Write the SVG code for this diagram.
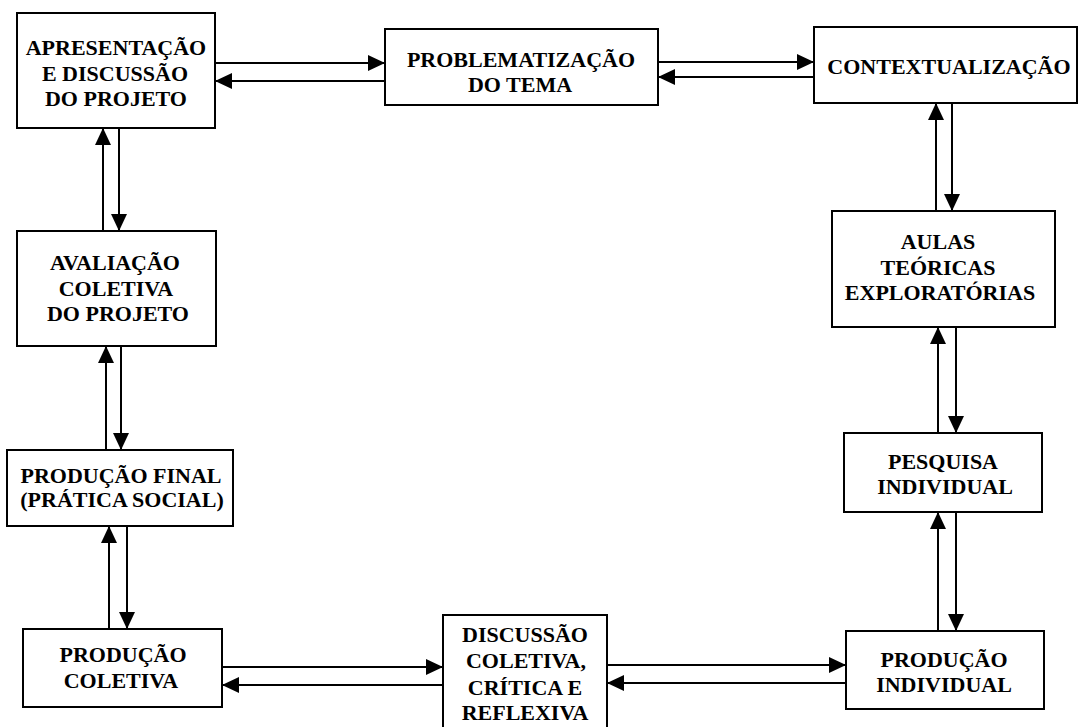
<svg xmlns="http://www.w3.org/2000/svg" width="1079" height="727" viewBox="0 0 1079 727">
<style>
.box{fill:#fff;stroke:#000;stroke-width:2}
.t{font-family:"Liberation Serif","Times New Roman",serif;font-weight:bold;font-size:22px;text-anchor:middle;fill:#000}
.c{stroke:#000;stroke-width:2;fill:none;marker-end:url(#ah)}
</style>
<defs>
<marker id="ah" markerUnits="userSpaceOnUse" markerWidth="17" markerHeight="16" refX="17" refY="8" orient="auto" viewBox="0 0 17 16">
<path d="M0,0 L17,8 L0,16 z" fill="#000"/>
</marker>
</defs>
<rect width="1079" height="727" fill="#fff"/>
<g id="connectors">
<line class="c" x1="215" y1="63" x2="385" y2="63"/>
<line class="c" x1="385" y1="81" x2="215" y2="81"/>
<line class="c" x1="658" y1="62" x2="814" y2="62"/>
<line class="c" x1="814" y1="77" x2="658" y2="77"/>
<line class="c" x1="936" y1="211" x2="936" y2="103"/>
<line class="c" x1="952" y1="103" x2="952" y2="211"/>
<line class="c" x1="938" y1="433" x2="938" y2="327"/>
<line class="c" x1="956" y1="327" x2="956" y2="433"/>
<line class="c" x1="938" y1="631" x2="938" y2="512"/>
<line class="c" x1="956" y1="512" x2="956" y2="631"/>
<line class="c" x1="607" y1="665" x2="846" y2="665"/>
<line class="c" x1="846" y1="683" x2="607" y2="683"/>
<line class="c" x1="222" y1="667" x2="443" y2="667"/>
<line class="c" x1="443" y1="685" x2="222" y2="685"/>
<line class="c" x1="109" y1="629" x2="109" y2="526"/>
<line class="c" x1="127" y1="526" x2="127" y2="629"/>
<line class="c" x1="106" y1="450" x2="106" y2="346"/>
<line class="c" x1="121" y1="346" x2="121" y2="450"/>
<line class="c" x1="103" y1="231" x2="103" y2="128"/>
<line class="c" x1="119" y1="128" x2="119" y2="231"/>
</g>
<g id="apresentacao">
<rect class="box" x="17" y="13" width="198" height="115"/>
<text class="t" x="116" y="55">APRESENTAÇÃO</text>
<text class="t" x="115" y="81">E DISCUSSÃO</text>
<text class="t" x="116" y="106">DO PROJETO</text>
</g>
<g id="problematizacao">
<rect class="box" x="385" y="29" width="273" height="76"/>
<text class="t" x="521" y="67">PROBLEMATIZAÇÃO</text>
<text class="t" x="520" y="92">DO TEMA</text>
</g>
<g id="contextualizacao">
<rect class="box" x="814" y="27" width="263" height="76"/>
<text class="t" x="949" y="74">CONTEXTUALIZAÇÃO</text>
</g>
<g id="aulas">
<rect class="box" x="832" y="211" width="223" height="116"/>
<text class="t" x="938" y="249">AULAS</text>
<text class="t" x="938" y="275">TEÓRICAS</text>
<text class="t" x="940" y="300">EXPLORATÓRIAS</text>
</g>
<g id="pesquisa">
<rect class="box" x="844" y="433" width="198" height="79"/>
<text class="t" x="943" y="469">PESQUISA</text>
<text class="t" x="945" y="494">INDIVIDUAL</text>
</g>
<g id="producao-individual">
<rect class="box" x="846" y="631" width="198" height="78"/>
<text class="t" x="944" y="667">PRODUÇÃO</text>
<text class="t" x="944" y="692">INDIVIDUAL</text>
</g>
<g id="discussao">
<rect class="box" x="443" y="615" width="164" height="120"/>
<text class="t" x="525" y="642">DISCUSSÃO</text>
<text class="t" x="526" y="668">COLETIVA,</text>
<text class="t" x="525" y="695">CRÍTICA E</text>
<text class="t" x="525" y="720">REFLEXIVA</text>
</g>
<g id="producao-coletiva">
<rect class="box" x="23" y="629" width="199" height="78"/>
<text class="t" x="123" y="662">PRODUÇÃO</text>
<text class="t" x="121" y="688">COLETIVA</text>
</g>
<g id="producao-final">
<rect class="box" x="7" y="450" width="226" height="76"/>
<text class="t" x="121" y="483">PRODUÇÃO FINAL</text>
<text class="t" x="122" y="507">(PRÁTICA SOCIAL)</text>
</g>
<g id="avaliacao">
<rect class="box" x="17" y="231" width="199" height="115"/>
<text class="t" x="115" y="270">AVALIAÇÃO</text>
<text class="t" x="116" y="296">COLETIVA</text>
<text class="t" x="118" y="321">DO PROJETO</text>
</g>
</svg>
